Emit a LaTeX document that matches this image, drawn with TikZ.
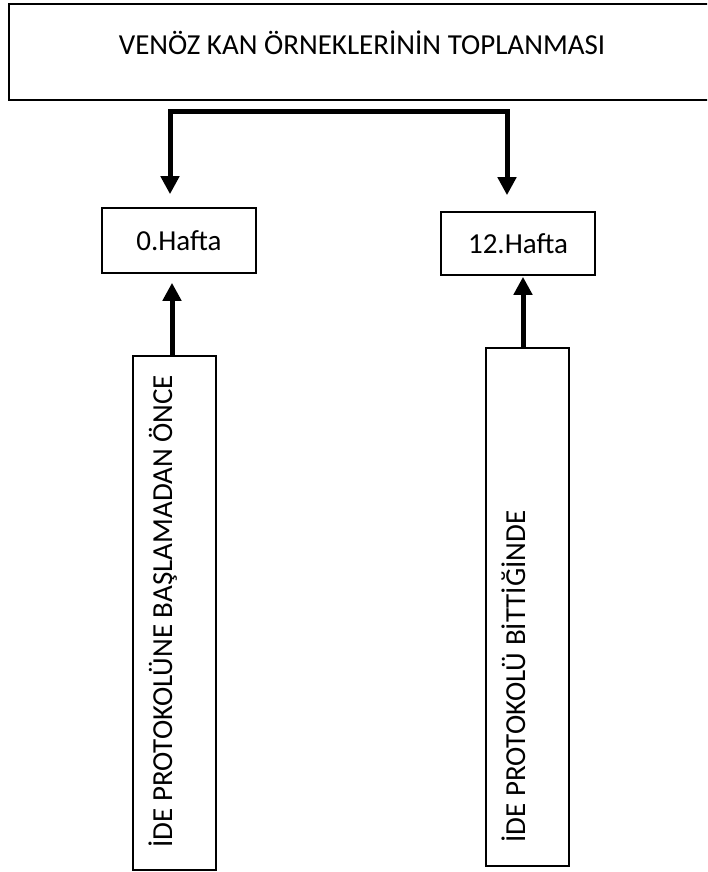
\documentclass[tikz,border=0pt]{standalone}
\usepackage{fontspec}
\setmainfont{Carlito}
\usetikzlibrary{arrows.meta}
\begin{document}
\begin{tikzpicture}[x=1pt,y=-1pt,
  box/.style={draw=black, line width=1.6pt, rectangle, inner sep=0pt, fill=white},
  lbl/.style={font=\fontsize{29}{33}\selectfont, inner sep=0pt},
  arr/.style={line width=5pt, -{Triangle[width=18pt,length=18pt]}},
  bracket/.style={line width=5pt, {Triangle[width=18pt,length=18pt]}-{Triangle[width=18pt,length=18pt]}}]
\useasboundingbox (0,0) rectangle (707,872);
\clip (0,0) rectangle (707,872);
\fill[white] (0,0) rectangle (707,872);
% boxes
\node[box, minimum width=711pt, minimum height=96pt] (top) at (364.5,52) {};
\node[lbl, anchor=base] (toptxt) at (362,55) {VENÖZ KAN ÖRNEKLERİNİN TOPLANMASI};
\node[box, lbl, minimum width=154pt, minimum height=65pt] (h0) at (179,240.5) {0.Hafta};
\node[box, lbl, minimum width=154pt, minimum height=63pt] (h12) at (518,243.5) {12.Hafta};
\node[box, minimum width=83pt, minimum height=514pt] (t0) at (174.5,613) {};
\node[box, minimum width=83pt, minimum height=518pt] (t12) at (527.5,607) {};
\node[lbl, rotate=90, anchor=base west] (t0txt) at (172,848) {İDE PROTOKOLÜNE BAŞLAMADAN ÖNCE};
\node[lbl, rotate=90, anchor=base west] (t12txt) at (525,843) {İDE PROTOKOLÜ BİTTİĞİNDE};
% bracket from top box
\coordinate (bl) at (170,112);
\coordinate (brr) at (507,112);
\draw[bracket, shorten <=13pt, shorten >=16pt] (bl |- h0.north) -- (bl) -- (brr) -- (brr |- h12.north);
% up arrows
\draw[arr, shorten >=9pt] ([xshift=-2.5pt]t0.north) -- ([xshift=-2.5pt]t0.north |- h0.south);
\draw[arr, shorten >=1pt] ([xshift=-4.5pt]t12.north) -- ([xshift=-4.5pt]t12.north |- h12.south);
\end{tikzpicture}
\end{document}
